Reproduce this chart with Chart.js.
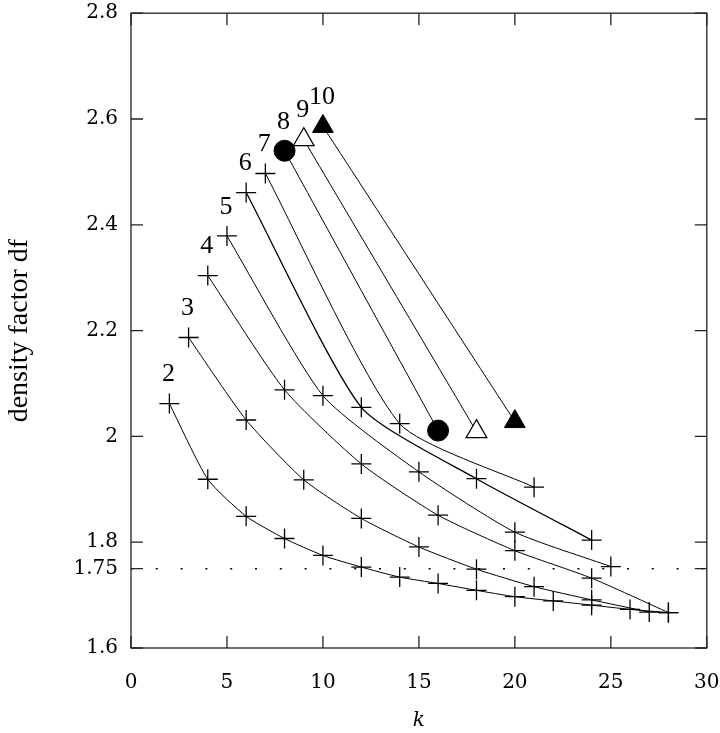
<!DOCTYPE html>
<html>
<head>
<meta charset="utf-8">
<script src="https://cdn.jsdelivr.net/npm/chart.js@4.4.1/dist/chart.umd.min.js"></script>
<style>
  html, body { margin: 0; padding: 0; background: #fff; }
  #wrap { width: 720px; height: 733px; }
</style>
</head>
<body>
<div id="wrap"><canvas id="dfChart" width="720" height="733"></canvas></div>
<script>
// axis ticks
const xTicks = [0, 5, 10, 15, 20, 25, 30];
const yTicks = [1.6, 1.75, 1.8, 2, 2.2, 2.4, 2.6, 2.8];
const refLevel = 1.75;

// one curve per m, k runs over multiples of m
const k2 = [2, 4, 6, 8, 10, 12, 14, 16, 18, 20, 22, 24, 26, 28];
const df2 = [2.062, 1.919, 1.849, 1.807, 1.775, 1.753, 1.734, 1.722, 1.709, 1.697, 1.689, 1.681, 1.673, 1.667];
const k3 = [3, 6, 9, 12, 15, 18, 21, 24, 27];
const df3 = [2.187, 2.031, 1.918, 1.845, 1.791, 1.749, 1.716, 1.691, 1.668];
const k4 = [4, 8, 12, 16, 20, 24, 28];
const df4 = [2.304, 2.088, 1.948, 1.851, 1.784, 1.732, 1.667];
const k5 = [5, 10, 15, 20, 25];
const df5 = [2.379, 2.077, 1.933, 1.819, 1.754];
const k6 = [6, 12, 18, 24];
const df6 = [2.461, 2.055, 1.920, 1.804];
const k7 = [7, 14, 21];
const df7 = [2.497, 2.024, 1.904];
const k8 = [8, 16];
const df8 = [2.540, 2.011];
const k9 = [9, 18];
const df9 = [2.561, 2.009];
const k10 = [10, 20];
const df10 = [2.586, 2.028];

const curveIds = [2, 3, 4, 5, 6, 7, 8, 9, 10];
const curveK = [k2, k3, k4, k5, k6, k7, k8, k9, k10];
const curveDf = [df2, df3, df4, df5, df6, df7, df8, df9, df10];

const INK = '#000';

function markerFor(m) {
  if (m === 8) return { pointStyle: 'circle', pointRadius: 10.5, pointBackgroundColor: INK, pointBorderWidth: 1 };
  if (m === 9) return { pointStyle: 'triangle', pointRadius: 12, pointBackgroundColor: '#fff', pointBorderWidth: 1.2 };
  if (m === 10) return { pointStyle: 'triangle', pointRadius: 12, pointBackgroundColor: INK, pointBorderWidth: 1 };
  return { pointStyle: 'cross', pointRadius: 10, pointBackgroundColor: INK, pointBorderWidth: 1.3 };
}

const datasets = [{
  label: 'ref',
  data: [{ x: xTicks[0], y: refLevel }, { x: xTicks[xTicks.length - 1], y: refLevel }],
  borderColor: INK,
  borderWidth: 1.5,
  borderDash: [2, 22.8],
  pointRadius: 0
}];

curveIds.forEach((m, i) => {
  datasets.push(Object.assign({
    label: String(m),
    data: curveK[i].map((k, j) => ({ x: k, y: curveDf[i][j] })),
    borderColor: INK,
    borderWidth: m === 6 ? 1.3 : 1,
    pointBorderColor: INK,
    tension: 0.2,
    curveId: m
  }, markerFor(m)));
});

// frame with inward ticks on all four sides
const frameTicks = {
  id: 'frameTicks',
  afterDatasetsDraw(chart) {
    const { ctx, chartArea: a, scales: { x, y } } = chart;
    const len = 12;
    ctx.save();
    ctx.strokeStyle = '#222';
    ctx.lineWidth = 1.3;
    ctx.strokeRect(a.left, a.top, a.right - a.left, a.bottom - a.top);
    ctx.beginPath();
    xTicks.forEach(v => {
      const px = x.getPixelForValue(v);
      ctx.moveTo(px, a.bottom); ctx.lineTo(px, a.bottom - len);
      ctx.moveTo(px, a.top); ctx.lineTo(px, a.top + len);
    });
    yTicks.forEach(v => {
      const py = y.getPixelForValue(v);
      ctx.moveTo(a.left, py); ctx.lineTo(a.left + len, py);
      ctx.moveTo(a.right, py); ctx.lineTo(a.right - len, py);
    });
    ctx.stroke();
    ctx.restore();
  }
};

// curve numbers above the first point of each curve
const curveLabels = {
  id: 'curveLabels',
  afterDatasetsDraw(chart) {
    const { ctx } = chart;
    ctx.save();
    ctx.fillStyle = INK;
    ctx.font = '26px "Liberation Serif", serif';
    ctx.textAlign = 'center';
    ctx.textBaseline = 'middle';
    chart.data.datasets.forEach((ds, i) => {
      if (!ds.curveId) return;
      const p = chart.getDatasetMeta(i).data[0];
      ctx.fillText(String(ds.curveId), p.x - 1, p.y - 29);
    });
    ctx.restore();
  }
};

new Chart(document.getElementById('dfChart').getContext('2d'), {
  type: 'line',
  data: { datasets },
  options: {
    responsive: false,
    animation: false,
    devicePixelRatio: 1,
    layout: { padding: { left: 0, right: 12, top: 12, bottom: 0 } },
    plugins: { legend: { display: false }, tooltip: { enabled: false } },
    scales: {
      x: {
        type: 'linear',
        min: 0,
        max: 30,
        afterBuildTicks: s => { s.ticks = xTicks.map(v => ({ value: v })); },
        afterFit: s => { s.height = 85; s.paddingLeft = 0; s.paddingRight = 0; },
        grid: { display: false, drawTicks: false },
        border: { display: false },
        ticks: {
          color: INK,
          padding: 23,
          autoSkip: false,
          maxRotation: 0,
          font: { family: '"DejaVu Serif", serif', size: 20 },
          callback: v => String(v)
        },
        title: {
          display: true,
          text: 'k',
          color: INK,
          font: { family: '"DejaVu Serif", serif', size: 20, style: 'italic' },
          padding: { top: 0, bottom: 0 }
        }
      },
      y: {
        type: 'linear',
        min: 1.6,
        max: 2.8,
        afterBuildTicks: s => { s.ticks = yTicks.map(v => ({ value: v })); },
        afterFit: s => { s.width = 131; s.paddingTop = 0; s.paddingBottom = 0; },
        grid: { display: false, drawTicks: false },
        border: { display: false },
        ticks: {
          color: INK,
          padding: 13,
          autoSkip: false,
          font: { family: '"DejaVu Serif", serif', size: 20 },
          callback: v => String(v)
        },
        title: {
          display: true,
          text: 'density factor df',
          color: INK,
          font: { family: '"Liberation Serif", serif', size: 28 },
          padding: { top: 3, bottom: 0 }
        }
      }
    }
  },
  plugins: [frameTicks, curveLabels]
});
</script>
</body>
</html>
